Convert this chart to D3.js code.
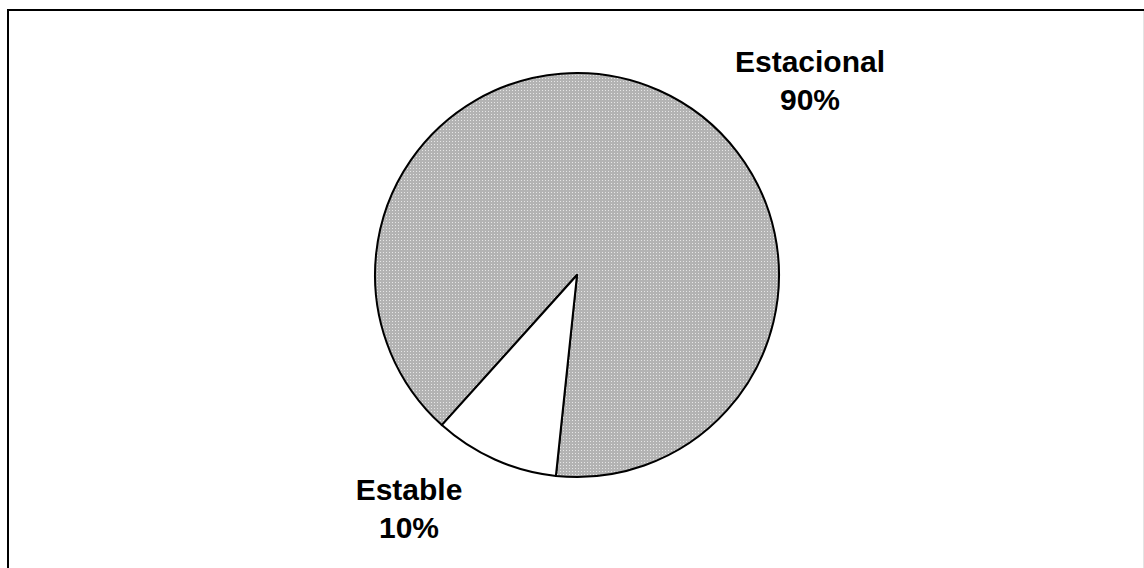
<!DOCTYPE html>
<html>
<head>
<meta charset="utf-8">
<script src="https://cdn.jsdelivr.net/npm/d3@7"></script>
<style>
  html, body { margin: 0; padding: 0; background: #fff; }
  svg { display: block; }
  text { font-family: "Liberation Sans", Arial, sans-serif; font-weight: bold; fill: #000; }
</style>
</head>
<body>
<svg id="chart" width="1144" height="568"></svg>
<script>
// Share of each type
const categories = ["Estacional", "Estable"];
const values = [90, 10];
const labels = ["90%", "10%"];

const svg = d3.select("#chart");
const W = 1144, H = 568;

// Chart frame
svg.append("line").attr("x1", 8).attr("y1", 10).attr("x2", 8).attr("y2", H + 5)
  .attr("stroke", "#000").attr("stroke-width", 2);
svg.append("line").attr("x1", 7).attr("y1", 10).attr("x2", W).attr("y2", 10)
  .attr("stroke", "#000").attr("stroke-width", 2);
svg.append("line").attr("x1", 1143.5).attr("y1", 11).attr("x2", 1143.5).attr("y2", H)
  .attr("stroke", "#e4e4e4").attr("stroke-width", 1);

// Dotted grey fill
const defs = svg.append("defs");
const pat = defs.append("pattern").attr("id", "dots")
  .attr("patternUnits", "userSpaceOnUse").attr("width", 3).attr("height", 3);
pat.append("rect").attr("width", 3).attr("height", 3).attr("fill", "#b3b3b3");
pat.append("rect").attr("x", 1).attr("y", 1).attr("width", 1).attr("height", 1).attr("fill", "#e6e6e6");

const fills = ["url(#dots)", "#ffffff"];

const cx = 577, cy = 275, r = 202;
const start = 222 * Math.PI / 180;

const pie = d3.pie().sort(null).value(d => d)
  .startAngle(start).endAngle(start + 2 * Math.PI);
const arc = d3.arc().innerRadius(0).outerRadius(r);

const g = svg.append("g").attr("transform", `translate(${cx},${cy})`);
g.selectAll("path").data(pie(values)).join("path")
  .attr("d", arc)
  .attr("fill", (d, i) => fills[i])
  .attr("stroke", "#000")
  .attr("stroke-width", 2)
  .attr("stroke-linejoin", "round");

// Slice labels
const labelPos = [[810, 72], [409, 500]];
const lineGap = 38;
categories.forEach((c, i) => {
  const t = svg.append("text")
    .attr("text-anchor", "middle")
    .attr("font-size", 30);
  t.append("tspan").attr("x", labelPos[i][0]).attr("y", labelPos[i][1]).text(c);
  t.append("tspan").attr("x", labelPos[i][0]).attr("y", labelPos[i][1] + lineGap).text(labels[i]);
});
</script>
</body>
</html>
